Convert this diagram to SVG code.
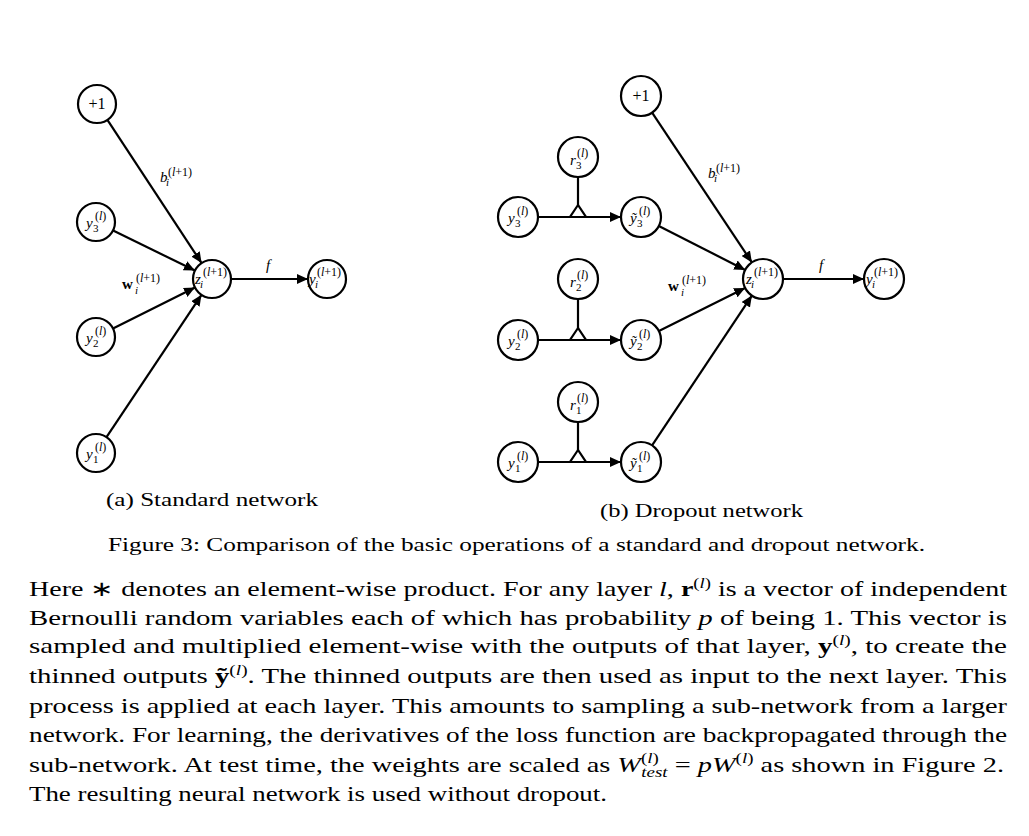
<svg xmlns="http://www.w3.org/2000/svg" width="1029" height="836" viewBox="0 0 1029 836">
<style>
text{font-family:"Liberation Serif","Times New Roman",serif;fill:#000}
.n{fill:#fff;stroke:#000;stroke-width:2.2}
.e{stroke:#000;stroke-width:2.2;fill:none;marker-end:url(#ah)}
.p{stroke:#000;stroke-width:2.2;fill:none}
.tri{fill:#fff;stroke:#000;stroke-width:2.2;stroke-linejoin:miter}
.m{font-style:italic;font-size:15px}
.up{font-style:normal}
.sp{font-size:12px;font-style:normal}
.sb{font-size:11px}
.one{font-size:16px;text-anchor:middle}
.cap{font-size:19px}
.par{font-size:21px}
.i{font-style:italic}
.b{font-weight:bold}
</style>
<defs>
<marker id="ah" markerUnits="userSpaceOnUse" markerWidth="12" markerHeight="10" refX="11" refY="5" orient="auto">
<path d="M0,0 L11,5 L0,10 z" fill="#000"/>
</marker>
</defs>
<rect width="1029" height="836" fill="#fff"/>

<g id="connectors">
<line class="e" x1="107.4" y1="119.9" x2="201.6" y2="263.1"/>
<line class="e" x1="113.1" y1="230.4" x2="194.9" y2="270.6"/>
<line class="e" x1="113.0" y1="328.5" x2="195.0" y2="287.5"/>
<line class="e" x1="106.5" y1="437.2" x2="201.5" y2="294.8"/>
<line class="e" x1="231" y1="279" x2="308" y2="279"/>

<line class="e" x1="652.1" y1="112.6" x2="751.9" y2="262.4"/>
<line class="e" x1="658.8" y1="226.1" x2="745.2" y2="269.9"/>
<line class="e" x1="658.9" y1="331.1" x2="745.1" y2="287.9"/>
<line class="e" x1="652.1" y1="445.4" x2="751.9" y2="295.6"/>
<line class="e" x1="783" y1="279" x2="864" y2="279"/>

<line class="e" x1="538" y1="217" x2="621" y2="217"/>
<line class="e" x1="538" y1="340" x2="621" y2="340"/>
<line class="e" x1="538" y1="462" x2="621" y2="462"/>
<line class="p" x1="578" y1="177" x2="578" y2="205"/>
<line class="p" x1="578" y1="299" x2="578" y2="328"/>
<line class="p" x1="578" y1="422" x2="578" y2="450"/>
<polygon class="tri" points="578,205 570,217 586,217"/>
<polygon class="tri" points="578,328 570,340 586,340"/>
<polygon class="tri" points="578,450 570,462 586,462"/>
</g>

<g id="edge-labels">
<text class="m" x="160" y="182">b<tspan class="sb" x="166" y="186">i</tspan><tspan class="sp" x="168" y="176">(<tspan class="i">l</tspan>+1)</tspan></text>
<text class="m up" x="122" y="289" font-weight="bold">w<tspan class="sb i" font-weight="normal" x="135" y="294">i</tspan><tspan class="sp" font-weight="normal" x="136" y="282">(<tspan class="i">l</tspan>+1)</tspan></text>
<text class="m" x="266" y="270">f</text>

<text class="m" x="708" y="178">b<tspan class="sb" x="714" y="182">i</tspan><tspan class="sp" x="716" y="172">(<tspan class="i">l</tspan>+1)</tspan></text>
<text class="m up" x="668" y="291" font-weight="bold">w<tspan class="sb i" font-weight="normal" x="681" y="296">i</tspan><tspan class="sp" font-weight="normal" x="682" y="284">(<tspan class="i">l</tspan>+1)</tspan></text>
<text class="m" x="819" y="270">f</text>
</g>

<g id="a-plus1"><circle class="n" cx="97" cy="104" r="19"/><text class="one" x="97" y="109">+1</text></g>
<g id="a-y3"><circle class="n" cx="96" cy="222" r="19"/><text class="m" x="86" y="228">y<tspan class="sb up" x="93" y="232">3</tspan><tspan class="sp" x="95" y="220">(<tspan class="i">l</tspan>)</tspan></text></g>
<g id="a-y2"><circle class="n" cx="96" cy="337" r="19"/><text class="m" x="86" y="343">y<tspan class="sb up" x="93" y="347">2</tspan><tspan class="sp" x="95" y="335">(<tspan class="i">l</tspan>)</tspan></text></g>
<g id="a-y1"><circle class="n" cx="96" cy="453" r="19"/><text class="m" x="86" y="459">y<tspan class="sb up" x="93" y="463">1</tspan><tspan class="sp" x="95" y="451">(<tspan class="i">l</tspan>)</tspan></text></g>
<g id="a-z"><circle class="n" cx="212" cy="279" r="19"/><text class="m" x="195" y="284">z<tspan class="sb" x="200" y="288">i</tspan><tspan class="sp" x="203" y="276">(<tspan class="i">l</tspan>+1)</tspan></text></g>
<g id="a-out"><circle class="n" cx="327" cy="279" r="19"/><text class="m" x="309" y="284">y<tspan class="sb" x="315" y="288">i</tspan><tspan class="sp" x="317" y="276">(<tspan class="i">l</tspan>+1)</tspan></text></g>

<g id="b-plus1"><circle class="n" cx="641" cy="96" r="20"/><text class="one" x="641" y="101">+1</text></g>
<g id="b-r3"><circle class="n" cx="578" cy="157" r="20"/><text class="m" x="570" y="165">r<tspan class="sb up" x="576" y="169">3</tspan><tspan class="sp" x="577" y="157">(<tspan class="i">l</tspan>)</tspan></text></g>
<g id="b-y3"><circle class="n" cx="518" cy="217" r="20"/><text class="m" x="508" y="223">y<tspan class="sb up" x="515" y="227">3</tspan><tspan class="sp" x="517" y="215">(<tspan class="i">l</tspan>)</tspan></text></g>
<g id="b-t3"><circle class="n" cx="641" cy="217" r="20"/><text class="m" x="630" y="223">ỹ<tspan class="sb up" x="637" y="227">3</tspan><tspan class="sp" x="639" y="215">(<tspan class="i">l</tspan>)</tspan></text></g>
<g id="b-r2"><circle class="n" cx="578" cy="279" r="20"/><text class="m" x="570" y="287">r<tspan class="sb up" x="576" y="291">2</tspan><tspan class="sp" x="577" y="279">(<tspan class="i">l</tspan>)</tspan></text></g>
<g id="b-y2"><circle class="n" cx="518" cy="340" r="20"/><text class="m" x="508" y="346">y<tspan class="sb up" x="515" y="350">2</tspan><tspan class="sp" x="517" y="338">(<tspan class="i">l</tspan>)</tspan></text></g>
<g id="b-t2"><circle class="n" cx="641" cy="340" r="20"/><text class="m" x="630" y="346">ỹ<tspan class="sb up" x="637" y="350">2</tspan><tspan class="sp" x="639" y="338">(<tspan class="i">l</tspan>)</tspan></text></g>
<g id="b-r1"><circle class="n" cx="578" cy="402" r="20"/><text class="m" x="570" y="410">r<tspan class="sb up" x="576" y="414">1</tspan><tspan class="sp" x="577" y="402">(<tspan class="i">l</tspan>)</tspan></text></g>
<g id="b-y1"><circle class="n" cx="518" cy="462" r="20"/><text class="m" x="508" y="468">y<tspan class="sb up" x="515" y="472">1</tspan><tspan class="sp" x="517" y="460">(<tspan class="i">l</tspan>)</tspan></text></g>
<g id="b-t1"><circle class="n" cx="641" cy="462" r="20"/><text class="m" x="630" y="468">ỹ<tspan class="sb up" x="637" y="472">1</tspan><tspan class="sp" x="639" y="460">(<tspan class="i">l</tspan>)</tspan></text></g>
<g id="b-z"><circle class="n" cx="763" cy="279" r="20"/><text class="m" x="746" y="284">z<tspan class="sb" x="751" y="288">i</tspan><tspan class="sp" x="754" y="276">(<tspan class="i">l</tspan>+1)</tspan></text></g>
<g id="b-out"><circle class="n" cx="884" cy="279" r="20"/><text class="m" x="866" y="284">y<tspan class="sb" x="872" y="288">i</tspan><tspan class="sp" x="874" y="276">(<tspan class="i">l</tspan>+1)</tspan></text></g>

<g id="captions">
<text class="cap" x="106" y="506" textLength="212" lengthAdjust="spacingAndGlyphs">(a) Standard network</text>
<text class="cap" x="600" y="517" textLength="203" lengthAdjust="spacingAndGlyphs">(b) Dropout network</text>
<text class="cap" x="108" y="551" textLength="817" lengthAdjust="spacingAndGlyphs">Figure 3: Comparison of the basic operations of a standard and dropout network.</text>
</g>

<g id="paragraph" class="par">
<text class="par" x="29" y="596" textLength="978" lengthAdjust="spacingAndGlyphs">Here ∗ denotes an element-wise product. For any layer <tspan class="i">l</tspan>, <tspan class="b">r</tspan><tspan font-size="14" dy="-8">(<tspan class="i">l</tspan>)</tspan><tspan dy="8"> is a vector of independent</tspan></text>
<text class="par" x="29" y="625" textLength="978" lengthAdjust="spacingAndGlyphs">Bernoulli random variables each of which has probability <tspan class="i">p</tspan> of being 1. This vector is</text>
<text class="par" x="29" y="653" textLength="978" lengthAdjust="spacingAndGlyphs">sampled and multiplied element-wise with the outputs of that layer, <tspan class="b">y</tspan><tspan font-size="14" dy="-8">(<tspan class="i">l</tspan>)</tspan><tspan dy="8">, to create the</tspan></text>
<text class="par" x="29" y="683" textLength="978" lengthAdjust="spacingAndGlyphs">thinned outputs <tspan class="b">ỹ</tspan><tspan font-size="14" dy="-8">(<tspan class="i">l</tspan>)</tspan><tspan dy="8">. The thinned outputs are then used as input to the next layer. This</tspan></text>
<text class="par" x="29" y="713" textLength="978" lengthAdjust="spacingAndGlyphs">process is applied at each layer. This amounts to sampling a sub-network from a larger</text>
<text class="par" x="29" y="742" textLength="978" lengthAdjust="spacingAndGlyphs">network. For learning, the derivatives of the loss function are backpropagated through the</text>
<text class="par" x="29" y="772" textLength="975" lengthAdjust="spacingAndGlyphs">sub-network. At test time, the weights are scaled as <tspan class="i">W</tspan><tspan font-size="14" dy="-9">(<tspan class="i">l</tspan>)</tspan><tspan font-size="14" class="i" dx="-13" dy="14">test</tspan><tspan dy="-5"> = </tspan><tspan class="i">pW</tspan><tspan font-size="14" dy="-9">(<tspan class="i">l</tspan>)</tspan><tspan dy="9"> as shown in Figure 2.</tspan></text>
<text class="par" x="29" y="801" textLength="578" lengthAdjust="spacingAndGlyphs">The resulting neural network is used without dropout.</text>
</g>
</svg>
